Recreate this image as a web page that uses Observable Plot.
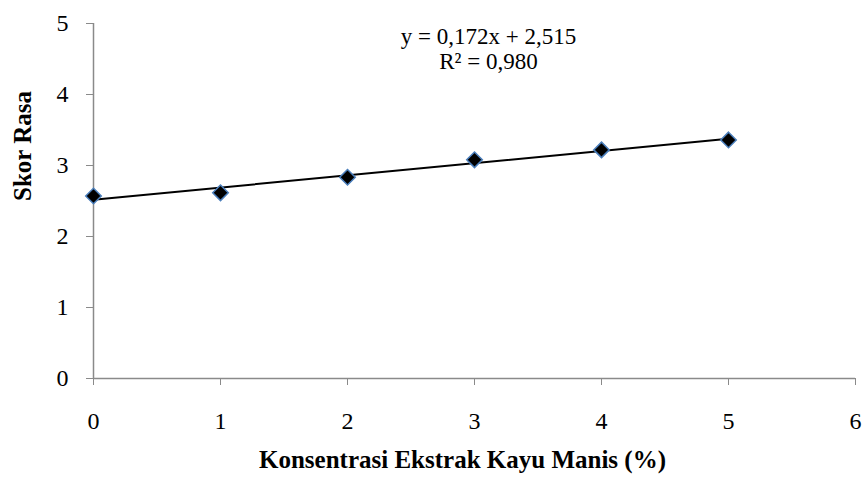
<!DOCTYPE html>
<html>
<head>
<meta charset="utf-8">
<script src="https://cdn.jsdelivr.net/npm/d3@7"></script>
<script src="https://cdn.jsdelivr.net/npm/@observablehq/plot@0.6"></script>
<style>
  html, body { margin: 0; padding: 0; background: white; }
</style>
</head>
<body>
<div id="chart"></div>
<script>
const konsentrasi = [0, 1, 2, 3, 4, 5];
const skorRasa = [2.57, 2.615, 2.835, 3.08, 3.22, 3.36];
const xTicks = [0, 1, 2, 3, 4, 5, 6];
const yTicks = [0, 1, 2, 3, 4, 5];
const equationLines = ["y = 0,172x + 2,515", "R² = 0,980"];
const xTitle = "Konsentrasi Ekstrak Kayu Manis (%)";
const yTitle = "Skor Rasa";

const data = konsentrasi.map((x, i) => ({x, y: skorRasa[i]}));
const axisColor = "#8a8a8a";

const chart = Plot.plot({
  width: 862,
  height: 479,
  marginLeft: 93,
  marginRight: 7,
  marginTop: 23,
  marginBottom: 101,
  style: {fontFamily: "'Liberation Serif', 'Times New Roman', serif", fontSize: "24px", background: "white", color: "black", overflow: "visible"},
  x: {domain: [0, 6]},
  y: {domain: [0, 5]},
  marks: [
    Plot.ruleY([0], {stroke: axisColor, strokeWidth: 1.5}),
    Plot.ruleX([0], {stroke: axisColor, strokeWidth: 1.5}),
    Plot.axisX(xTicks, {tickSize: 7, tickPadding: 26, tickFormat: d3.format("d"), stroke: axisColor, fill: "black", label: null, fontSize: 24}),
    Plot.axisY(yTicks, {tickSize: 7, tickPadding: 18, tickFormat: d3.format("d"), stroke: axisColor, fill: "black", label: null, fontSize: 24}),
    Plot.linearRegressionY(data, {x: "x", y: "y", ci: 0, stroke: "black", strokeWidth: 2}),
    Plot.dot(data, {x: "x", y: "y", symbol: "diamond2", r: 7, fill: "black", stroke: "#4a7ebb", strokeWidth: 1.5}),
    Plot.text([equationLines[0]], {frameAnchor: "top", dx: 14, dy: 4, fontSize: 23, fill: "black"}),
    Plot.text([equationLines[1]], {frameAnchor: "top", dx: 14, dy: 29, fontSize: 23, fill: "black"}),
    Plot.text([xTitle], {frameAnchor: "bottom", dx: -12, dy: 89, fontSize: 25, fontWeight: "bold", fill: "black"}),
    Plot.text([yTitle], {frameAnchor: "left", dx: -71, rotate: -90, fontSize: 25, fontWeight: "bold", fill: "black"})
  ]
});
document.getElementById("chart").appendChild(chart);
</script>
</body>
</html>
